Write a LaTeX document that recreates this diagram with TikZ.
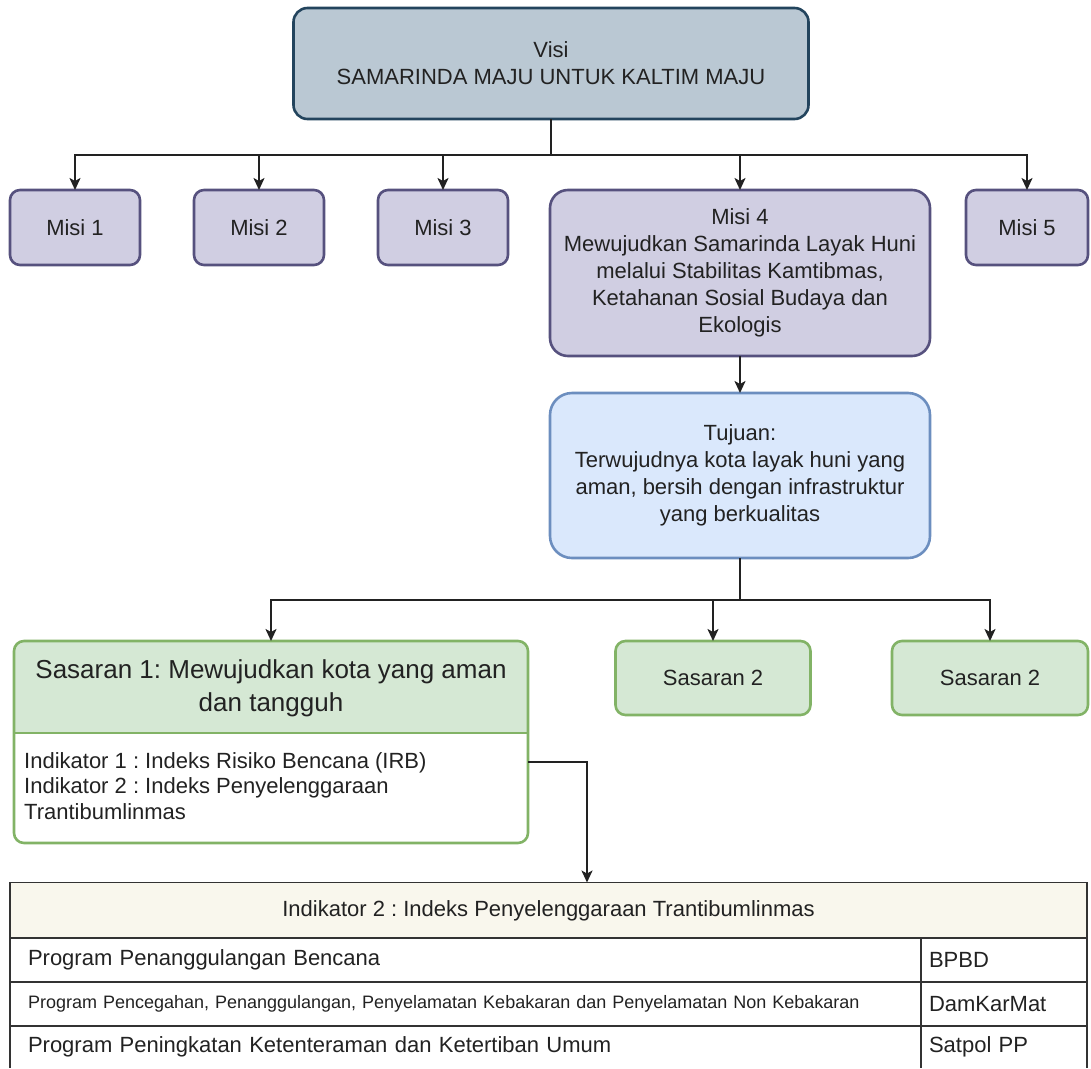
\documentclass[tikz,border=0pt]{standalone}
\usepackage{fontspec}
\setmainfont{Liberation Sans}
\usetikzlibrary{arrows.meta,calc}
\definecolor{visiF}{HTML}{BAC8D3}\definecolor{visiD}{HTML}{23445D}
\definecolor{misiF}{HTML}{D0CEE2}\definecolor{misiD}{HTML}{56517E}
\definecolor{tujF}{HTML}{DAE8FC}\definecolor{tujD}{HTML}{6C8EBF}
\definecolor{sasF}{HTML}{D5E8D4}\definecolor{sasD}{HTML}{82B366}
\definecolor{tabF}{HTML}{F9F7ED}\definecolor{tabD}{HTML}{333333}
\definecolor{txt}{HTML}{222222}
\frenchspacing
\begin{document}
\begin{tikzpicture}[x=1pt,y=-1pt,
  box/.style={draw, line width=2.6pt, rounded corners=#1, inner sep=0pt, outer sep=0pt,
    align=center, text=txt, font=\fontsize{22}{27}\selectfont},
  box/.default=10pt,
  visibox/.style={box=14pt, fill=visiF, draw=visiD},
  misibox/.style={box=10pt, fill=misiF, draw=misiD},
  tujbox/.style={box=22pt, fill=tujF, draw=tujD},
  sasbox/.style={box=10pt, fill=sasF, draw=sasD},
  conn/.style={line width=2pt, draw=txt},
  arr/.style={conn, -{Stealth[length=12pt,width=11pt,inset=3pt]}},
  cell/.style={draw=tabD, line width=1.5pt, inner sep=0pt, outer sep=0pt, text=txt,
    font=\fontsize{22}{26}\selectfont, align=left},
  cellL/.style={cell, minimum width=911pt, text width=875pt},
  cellR/.style={cell, minimum width=166pt, text width=150pt},
]
\useasboundingbox (0,0) rectangle (1091,1068);

% Visi
\node[visibox, minimum width=515pt, minimum height=111pt] (visi) at (551,63.5)
  {Visi\\SAMARINDA MAJU UNTUK KALTIM MAJU};

% Misi
\node[misibox, minimum width=130pt, minimum height=75pt] (m1) at (75,227.5) {Misi 1};
\node[misibox, minimum width=130pt, minimum height=75pt] (m2) at (259,227.5) {Misi 2};
\node[misibox, minimum width=130pt, minimum height=75pt] (m3) at (443,227.5) {Misi 3};
\node[misibox, box=18pt, minimum width=380pt, minimum height=166pt] (m4) at (740,273)
  {Misi 4\\Mewujudkan Samarinda Layak Huni\\melalui Stabilitas Kamtibmas,\\Ketahanan Sosial Budaya dan\\Ekologis};
\node[misibox, minimum width=122pt, minimum height=75pt] (m5) at (1027,227.5) {Misi 5};

% Tujuan
\node[tujbox, minimum width=380pt, minimum height=165pt] (tujuan) at (740,475.5)
  {Tujuan:\\Terwujudnya kota layak huni yang\\aman, bersih dengan infrastruktur\\yang berkualitas};

% Sasaran 1 (header + body)
\fill[white, rounded corners=10pt] (14,641) rectangle (528,843);
\begin{scope}
  \clip (0,641) rectangle (540,733);
  \fill[sasF, rounded corners=10pt] (14,641) rectangle (528,843);
\end{scope}
\draw[sasD, line width=2.6pt] (14,733) -- (528,733);
\node[draw=sasD, line width=2.6pt, rounded corners=10pt, inner sep=0pt, outer sep=0pt,
  minimum width=514pt, minimum height=202pt] (s1) at (271,742) {};
\node[text=txt, align=center, font=\fontsize{26}{33}\selectfont] (s1h) at (271,688)
  {Sasaran 1: Mewujudkan kota yang aman\\dan tangguh};
\node[text=txt, align=left, anchor=west, inner sep=0pt, font=\fontsize{22}{25.5}\selectfont] (s1b) at (24,786)
  {Indikator 1 : Indeks Risiko Bencana (IRB)\\Indikator 2 : Indeks Penyelenggaraan\\Trantibumlinmas};

% Sasaran 2
\node[sasbox, minimum width=195pt, minimum height=74pt] (s2) at (713,678) {Sasaran 2};
\node[sasbox, minimum width=196pt, minimum height=74pt] (s3) at (990,678) {Sasaran 2};

% Table
\node[cell, fill=tabF, minimum width=1077pt, minimum height=56pt, align=center] (th) at (548.5,910.5)
  {Indikator 2 : Indeks Penyelenggaraan Trantibumlinmas};
\node[cellL, minimum height=44pt] (r1a) at (465.5,960) {Program Penanggulangan Bencana};
\node[cellR, minimum height=44pt] (r1b) at (1004,960) {BPBD};
\node[cellL, minimum height=44pt, font=\fontsize{18}{22}\selectfont] (r2a) at (465.5,1004)
  {Program Pencegahan, Penanggulangan, Penyelamatan Kebakaran dan Penyelamatan Non Kebakaran};
\node[cellR, minimum height=44pt] (r2b) at (1004,1004) {DamKarMat};
\node[cellL, draw=none, minimum height=42pt] (r3a) at (465.5,1047) {Program Peningkatan Ketenteraman dan Ketertiban Umum};
\node[cellR, draw=none, minimum height=42pt] (r3b) at (1004,1047) {Satpol PP};
\draw[tabD, line width=1.5pt] (r3a.north west) -- (r3a.south west);
\draw[tabD, line width=1.5pt] (r3a.north east) -- (r3a.south east);
\draw[tabD, line width=1.5pt] (r3b.north east) -- (r3b.south east);

% Connectors
\draw[conn] (visi.south) -- ++(0,36) coordinate (vb);
\foreach \m in {m1,m2,m3,m4,m5} \draw[arr] (vb) -| (\m.north);
\draw[arr] (m4) -- (tujuan);
\draw[conn] (tujuan.south) -- ++(0,42) coordinate (tb);
\foreach \s in {s1,s2,s3} \draw[arr] (tb) -| (\s.north);
\draw[arr] ([yshift=-20pt]s1.east) -| ([xshift=38.5pt]th.north);
\end{tikzpicture}
\end{document}
